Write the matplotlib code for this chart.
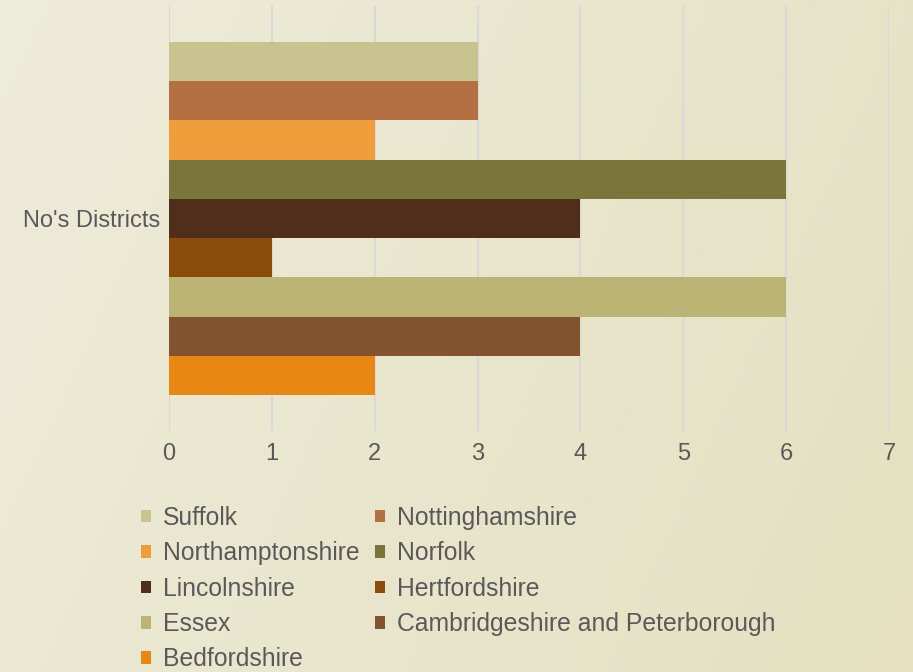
import matplotlib
matplotlib.use("Agg")
import matplotlib.pyplot as plt
import numpy as np
from matplotlib.patches import Patch

categories = ["No's Districts"]
series_names = ["Suffolk", "Nottinghamshire", "Northamptonshire", "Norfolk",
                "Lincolnshire", "Hertfordshire", "Essex",
                "Cambridgeshire and Peterborough", "Bedfordshire"]
values = [3, 3, 2, 6, 4, 1, 6, 4, 2]
colors = ["#C9C48F", "#B47043", "#EF9D3B", "#7A753A", "#4F2F1C",
          "#8A4C0B", "#BBB474", "#83522F", "#E88712"]
x_ticks = [0, 1, 2, 3, 4, 5, 6, 7]

plt.rcParams['font.family'] = ['Liberation Sans', 'DejaVu Sans']
W, H = 913, 672
fig = plt.figure(figsize=(W / 100, H / 100), dpi=100)

# background gradient
bg = fig.add_axes([0, 0, 1, 1], zorder=-10)
xx, yy = np.meshgrid(np.linspace(0, 1, 200), np.linspace(0, 1, 200))
t = np.clip(0.75 * xx + 0.25 * yy, 0, 1)
c0 = np.array([0xEE, 0xEC, 0xDA]) / 255
c1 = np.array([0xE4, 0xE0, 0xC1]) / 255
img = c0[None, None, :] * (1 - t[..., None]) + c1[None, None, :] * t[..., None]
bg.imshow(img, aspect='auto', extent=[0, 1, 0, 1], origin='upper')
bg.axis('off')

left, right = 169 / W, 889 / W
top, bottom = 1 - 6 / H, 1 - 431 / H
ax = fig.add_axes([left, bottom, right - left, top - bottom])
ax.patch.set_alpha(0)

n = len(values)
pos = np.arange(n)
for i in range(n):
    ax.barh(pos[i], values[i], height=1.0, color=colors[i], zorder=3,
            label=series_names[i])

margin = 36 / 39.33
ax.set_ylim(n - 0.5 + margin, -0.5 - margin)
ax.set_xlim(0, 7)
ax.set_xticks(x_ticks)
ax.set_xticklabels([str(v) for v in x_ticks])
ax.set_yticks([(n - 1) / 2])
ax.set_yticklabels(categories)
ax.tick_params(axis='both', length=0, labelsize=17, colors='#595959')
ax.tick_params(axis='x', pad=9)
ax.tick_params(axis='y', pad=6)
ax.grid(axis='x', color='#D9D9D9', linewidth=1.6, zorder=0)
for s in ax.spines.values():
    s.set_visible(False)

order = [0, 2, 4, 6, 8, 1, 3, 5, 7]
leg_handles = [Patch(facecolor=colors[i], edgecolor='none') for i in order]
leg_labels = [series_names[i] for i in order]
leg = fig.legend(leg_handles, leg_labels, ncol=2, loc='upper left',
                 bbox_to_anchor=(141 / W, 1 - 506 / H), frameon=False,
                 fontsize=17.8, handlelength=0.4, handleheight=0.4,
                 handletextpad=0.5, columnspacing=0.62, labelspacing=0.46,
                 borderpad=0, borderaxespad=0)
for txt in leg.get_texts():
    txt.set_color('#595959')

fig.savefig("out.png", dpi=100)
